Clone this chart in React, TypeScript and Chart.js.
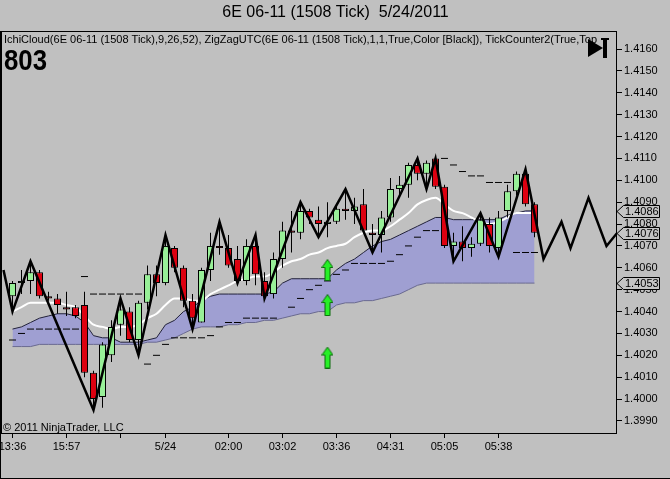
import React, { useEffect, useRef } from 'react';
import { Chart, registerables } from 'chart.js';

Chart.register(...registerables);

const FONT = '"Liberation Sans", Arial, Helvetica, sans-serif';
const BG = '#c0c0c0';
const UP = '#98f098';
const DOWN = '#dd0010';
const CLOUD = '#9f9fd2';

const titleText = '6E 06-11 (1508 Tick)  5/24/2011';
const indicatorText =
  'IchiCloud(6E 06-11 (1508 Tick),9,26,52), ZigZagUTC(6E 06-11 (1508 Tick),1,1,True,Color [Black]), TickCounter2(True,Top';
const tickCountText = '803';
const copyrightText = '\u00A9 2011 NinjaTrader, LLC';

// x axis (bar index) ticks and labels
const xTickIndex = [0, 6, 12, 17, 24, 30, 36, 42, 48, 54];
const xTickLabels = ['13:36', '15:57', '', '5/24', '02:00', '03:02', '03:36', '04:31', '05:05', '05:38'];

// price axis ticks
const yTickValues = [
  1.399, 1.4, 1.401, 1.402, 1.403, 1.404, 1.405, 1.406, 1.407, 1.408, 1.409, 1.41, 1.411, 1.412,
  1.413, 1.414, 1.415, 1.416,
];

// candles (bars 0..58)
const opens = [
  1.4047, 1.4053, 1.4054, 1.4058, 1.4047, 1.4046, 1.4042, 1.4042, 1.4043, 1.4012,
  1.4001, 1.402, 1.4034, 1.404, 1.4027, 1.4044, 1.4057, 1.4053, 1.4069, 1.406,
  1.4045, 1.4035, 1.4059, 1.407, 1.4069, 1.4064, 1.4054, 1.407, 1.4054, 1.4048,
  1.4064, 1.4077, 1.4076, 1.4086, 1.4082, 1.408, 1.4081, 1.4087, 1.4086, 1.4089,
  1.4076, 1.4075, 1.4083, 1.4096, 1.4098, 1.4107, 1.4103, 1.411, 1.4097, 1.407,
  1.4072, 1.4069, 1.4071, 1.408, 1.4069, 1.4086, 1.4095, 1.4103, 1.4089,
];
const highs = [
  1.4054, 1.4059, 1.4063, 1.4059, 1.4049, 1.4048, 1.4049, 1.4043, 1.4049, 1.4013,
  1.4026, 1.4036, 1.4046, 1.4042, 1.4045, 1.4061, 1.4061, 1.4075, 1.407, 1.4061,
  1.4048, 1.406, 1.4076, 1.4081, 1.4075, 1.407, 1.4073, 1.4075, 1.4058, 1.4067,
  1.4081, 1.4086, 1.409, 1.4087, 1.4088, 1.409, 1.4088, 1.4096, 1.4092, 1.4096,
  1.408, 1.4086, 1.4101, 1.4102, 1.4108, 1.411, 1.4109, 1.411, 1.4098, 1.4076,
  1.4079, 1.4074, 1.4085, 1.4083, 1.4086, 1.4098, 1.4104, 1.4105, 1.409,
];
const lows = [
  1.404, 1.4048, 1.4048, 1.4046, 1.4045, 1.4039, 1.4038, 1.4037, 1.401, 1.3995,
  1.3996, 1.4017, 1.4029, 1.4026, 1.402, 1.4041, 1.4047, 1.4052, 1.4058, 1.4042,
  1.4032, 1.4035, 1.4054, 1.4066, 1.406, 1.4053, 1.4052, 1.4052, 1.4046, 1.4046,
  1.406, 1.4067, 1.4073, 1.408, 1.4074, 1.4074, 1.408, 1.4082, 1.408, 1.4076,
  1.4067, 1.4067, 1.4081, 1.4092, 1.4092, 1.41, 1.4096, 1.4096, 1.4069, 1.4063,
  1.4063, 1.4065, 1.407, 1.4067, 1.4065, 1.4083, 1.4093, 1.4088, 1.4074,
];
const closes = [
  1.4053, 1.4054, 1.4058, 1.4047, 1.4046, 1.4043, 1.4041, 1.4038, 1.4012, 1.4,
  1.4025, 1.4033, 1.4041, 1.4027, 1.4044, 1.4057, 1.4053, 1.407, 1.406, 1.4045,
  1.4037, 1.4059, 1.407, 1.4069, 1.4061, 1.4054, 1.407, 1.4057, 1.4047, 1.4064,
  1.4077, 1.4076, 1.4086, 1.4083, 1.408, 1.4081, 1.4087, 1.4086, 1.4088, 1.4077,
  1.4075, 1.4083, 1.4096, 1.4098, 1.4107, 1.4103, 1.4108, 1.4097, 1.407, 1.4072,
  1.4069, 1.4071, 1.4082, 1.407, 1.4083, 1.4095, 1.4103, 1.4089, 1.4076,
];

// zigzag swing points (bar index, price), incl. projection to the right
const zigzagIndex = [-1, 0, 2, 9, 12, 14, 17, 20, 23, 25, 27, 28, 32, 34, 37, 40, 45, 46, 47, 49, 52, 54, 57, 59, 61, 62, 64, 66, 68];
const zigzagPrice = [
  1.4059, 1.404, 1.4063, 1.3995, 1.4046, 1.402, 1.4075, 1.4032, 1.4081, 1.4053,
  1.4075, 1.4046, 1.409, 1.4074, 1.4096, 1.4067, 1.411, 1.4096, 1.411, 1.4063,
  1.4085, 1.4065, 1.4105, 1.4064, 1.4081, 1.4069, 1.4092, 1.407, 1.408,
];

// white line
const whiteLine = [
  1.404, 1.4042, 1.4044, 1.4044, 1.4044, 1.4044, 1.4043, 1.4042, 1.4038, 1.4034,
  1.4033, 1.4032, 1.4033, 1.4033, 1.4034, 1.4037, 1.4039, 1.4043, 1.4046, 1.4046,
  1.4045, 1.4045, 1.4048, 1.405, 1.4052, 1.4054, 1.4055, 1.4056, 1.4056, 1.4058,
  1.4061, 1.4063, 1.4064, 1.4066, 1.4067, 1.4069, 1.407, 1.4071, 1.4074, 1.4076,
  1.4077, 1.4077, 1.4079, 1.4082, 1.4085, 1.4089, 1.4091, 1.4092, 1.4089, 1.4086,
  1.4085, 1.4083, 1.4081, 1.408, 1.4081, 1.4083, 1.4085, 1.4085, 1.4085,
];

// cloud spans
const spanA = [
  1.4032, 1.4033, 1.4035, 1.4037, 1.4038, 1.4039, 1.4039, 1.4038, 1.4035, 1.4029,
  1.4028, 1.4028, 1.4026, 1.4026, 1.4026, 1.4027, 1.4028, 1.4034, 1.4036, 1.404,
  1.4042, 1.4045, 1.4047, 1.4048, 1.4048, 1.4048, 1.4048, 1.4048, 1.4048, 1.4049,
  1.4053, 1.4055, 1.4055, 1.4055, 1.4055, 1.4055, 1.4059, 1.4062, 1.4064, 1.4067,
  1.407, 1.4072, 1.4073, 1.4075, 1.4077, 1.4079, 1.4081, 1.4083, 1.4083, 1.4082,
  1.4082, 1.4082, 1.4082, 1.4082, 1.4082, 1.4084, 1.4085, 1.4086, 1.4086,
];
const spanB = [
  1.4024, 1.4024, 1.4024, 1.4025, 1.4025, 1.4025, 1.4025, 1.4025, 1.4025, 1.4025,
  1.4025, 1.4025, 1.4025, 1.4025, 1.4025, 1.4026, 1.4026, 1.4027, 1.4028, 1.403,
  1.4032, 1.4033, 1.4033, 1.4033, 1.4034, 1.4034, 1.4035, 1.4035, 1.4036, 1.4036,
  1.4037, 1.4038, 1.4039, 1.4039, 1.404, 1.404, 1.4043, 1.4044, 1.4044, 1.4045,
  1.4045, 1.4046, 1.4047, 1.4048, 1.405, 1.4052, 1.4053, 1.4053, 1.4053, 1.4053,
  1.4053, 1.4053, 1.4053, 1.4053, 1.4053, 1.4053, 1.4053, 1.4053, 1.4053,
];

// short black dashes
const dashLine = [
  1.4027, 1.403, 1.4032, 1.4032, 1.4032, 1.4032, 1.4032, 1.4032, 1.4056, 1.4048,
  1.4048, 1.4048, 1.4048, 1.4048, 1.4048, 1.4016, 1.402, 1.4025, 1.4028, 1.4028,
  1.4028, 1.4028, 1.4029, 1.4033, 1.4035, 1.4035, 1.4037, 1.4037, 1.4037, 1.4037,
  null, 1.4042, 1.4046, 1.405, 1.4052, 1.4054, 1.4057, 1.4059, 1.4062, 1.4062,
  1.4062, 1.4062, 1.4063, 1.4066, 1.407, 1.4074, 1.4077, 1.4077, 1.411, 1.4107,
  1.4104, 1.4102, 1.4102, 1.4099, 1.4099, 1.4099, 1.4067, 1.4067, 1.4067,
];

// green up arrows
const arrowIndex = [35, 35, 35];
const arrowPrice = [1.4059, 1.4043, 1.4019];

// right-axis price markers
const markerPrices = [1.4086, 1.4076, 1.4053];

function makeArrow(): HTMLCanvasElement {
  const c = document.createElement('canvas');
  c.width = 12;
  c.height = 22;
  const g = c.getContext('2d') as CanvasRenderingContext2D;
  g.beginPath();
  g.moveTo(6, 0.5);
  g.lineTo(11.5, 8.5);
  g.lineTo(8.5, 8.5);
  g.lineTo(8.5, 21.5);
  g.lineTo(3.5, 21.5);
  g.lineTo(3.5, 8.5);
  g.lineTo(0.5, 8.5);
  g.closePath();
  g.fillStyle = '#26f026';
  g.fill();
  g.strokeStyle = '#0b6b0b';
  g.lineWidth = 1;
  g.stroke();
  return c;
}

const decorPlugin = {
  id: 'decor',
  beforeDraw(chart: any) {
    const { ctx, width, height } = chart;
    ctx.save();
    ctx.fillStyle = BG;
    ctx.fillRect(0, 0, width, height);
    ctx.restore();
  },
  afterDraw(chart: any) {
    const { ctx, chartArea: a, width, height } = chart;
    const ys = chart.scales.y;
    ctx.save();
    ctx.strokeStyle = '#000';
    ctx.lineWidth = 1;
    ctx.strokeRect(Math.round(a.left) + 0.5, Math.round(a.top) + 0.5, Math.round(a.right - a.left), Math.round(a.bottom - a.top));
    ctx.beginPath();
    ctx.moveTo(0.5, a.top);
    ctx.lineTo(0.5, height);
    ctx.moveTo(0, height - 0.5);
    ctx.lineTo(width, height - 0.5);
    ctx.stroke();

    ctx.fillStyle = '#000';
    ctx.textAlign = 'left';
    ctx.textBaseline = 'alphabetic';
    ctx.font = `11px ${FONT}`;
    ctx.fillText(indicatorText, 4, 42.5, 606);
    ctx.font = `bold 29px ${FONT}`;
    ctx.fillText(tickCountText, 4, 70, 43);
    ctx.font = `11px ${FONT}`;
    ctx.fillText(copyrightText, 3, 430.5);

    // play/stop icon
    ctx.beginPath();
    ctx.moveTo(588, 39);
    ctx.lineTo(588, 57);
    ctx.lineTo(603, 48);
    ctx.closePath();
    ctx.fill();
    ctx.fillRect(603, 38, 4, 20);
    ctx.fillRect(601, 38, 8, 2);

    // price markers
    ctx.font = `11px ${FONT}`;
    ctx.textBaseline = 'middle';
    for (const p of markerPrices) {
      const y = Math.round(ys.getPixelForValue(p)) + 0.5;
      ctx.beginPath();
      ctx.moveTo(617, y);
      ctx.lineTo(623.5, y - 6);
      ctx.lineTo(659.5, y - 6);
      ctx.lineTo(659.5, y + 6);
      ctx.lineTo(623.5, y + 6);
      ctx.closePath();
      ctx.fillStyle = '#c4c4c4';
      ctx.fill();
      ctx.strokeStyle = '#000';
      ctx.stroke();
      ctx.fillStyle = '#000';
      ctx.fillText(p.toFixed(4), 625, y + 0.5);
    }
    ctx.restore();
  },
};

export default function App() {
  const ref = useRef<HTMLCanvasElement | null>(null);

  useEffect(() => {
    document.body.style.margin = '0';
    document.body.style.overflow = 'hidden';
    const canvas = ref.current;
    if (!canvas) return;
    const arrow = makeArrow();
    const idx = opens.map((_, i) => i);

    const chart = new Chart(canvas, {
      type: 'bar',
      data: {
        datasets: [
          {
            type: 'line',
            label: 'ZigZag',
            data: zigzagIndex.map((x, k) => ({ x, y: zigzagPrice[k] })),
            borderColor: '#000',
            borderWidth: 2.5,
            pointRadius: 0,
            tension: 0,
            fill: false,
            clip: 0,
            order: 1,
          } as any,
          {
            type: 'line',
            label: 'Arrows',
            data: arrowIndex.map((x, k) => ({ x, y: arrowPrice[k] })),
            showLine: false,
            pointStyle: arrow,
            pointRadius: 10,
            order: 0,
          } as any,
          {
            type: 'bar',
            label: 'Bodies',
            data: idx.map((i) => ({ x: i, y: [opens[i], closes[i]] })),
            backgroundColor: idx.map((i) => (closes[i] >= opens[i] ? UP : DOWN)),
            borderColor: '#000',
            borderWidth: 1,
            borderSkipped: false,
            barThickness: 7,
            grouped: false,
            inflateAmount: 0,
            order: 2,
          } as any,
          {
            type: 'bar',
            label: 'Wicks',
            data: idx.map((i) => ({ x: i, y: [lows[i], highs[i]] })),
            backgroundColor: '#000',
            borderWidth: 0,
            barThickness: 1,
            grouped: false,
            inflateAmount: 0,
            order: 3,
          } as any,
          {
            type: 'line',
            label: 'White',
            data: idx.map((i) => ({ x: i, y: whiteLine[i] })),
            borderColor: '#ffffff',
            borderWidth: 2,
            pointRadius: 0,
            cubicInterpolationMode: 'monotone',
            fill: false,
            order: 4,
          } as any,
          {
            type: 'line',
            label: 'Dashes',
            data: idx.map((i) => ({ x: i, y: dashLine[i] })),
            showLine: false,
            pointStyle: 'line',
            pointRadius: 3.5,
            pointBorderWidth: 1,
            pointBorderColor: '#000',
            pointBackgroundColor: '#000',
            order: 5,
          } as any,
          {
            type: 'line',
            label: 'SpanA',
            data: idx.map((i) => ({ x: i, y: spanA[i] })),
            borderColor: '#22223a',
            borderWidth: 1,
            pointRadius: 0,
            tension: 0,
            fill: '+1',
            backgroundColor: CLOUD,
            order: 7,
          } as any,
          {
            type: 'line',
            label: 'SpanB',
            data: idx.map((i) => ({ x: i, y: spanB[i] })),
            borderColor: '#6a6a90',
            borderWidth: 1,
            pointRadius: 0,
            tension: 0,
            fill: false,
            order: 6,
          } as any,
        ],
      },
      options: {
        responsive: false,
        animation: false,
        devicePixelRatio: 1,
        events: [],
        layout: { autoPadding: false, padding: { left: 1, top: 0, right: 0, bottom: 0 } },
        plugins: {
          legend: { display: false },
          tooltip: { enabled: false },
          title: {
            display: true,
            text: titleText,
            color: '#000',
            font: { family: FONT, size: 16, weight: 'normal' },
            padding: { top: 3.4, bottom: 8.4 },
          },
        },
        scales: {
          x: {
            type: 'linear',
            min: -1.2778,
            max: 67.0556,
            offset: false,
            bounds: 'data',
            grid: { drawOnChartArea: false, drawTicks: true, tickLength: 5, color: '#000', offset: false },
            border: { display: true, color: '#000' },
            ticks: {
              autoSkip: false,
              maxRotation: 0,
              minRotation: 0,
              padding: 2,
              color: '#000',
              font: { family: FONT, size: 11 },
              callback: (v: any) => {
                const k = xTickIndex.indexOf(Number(v));
                return k >= 0 ? xTickLabels[k] : '';
              },
            },
            afterBuildTicks: (s: any) => {
              s.ticks = xTickIndex.map((v) => ({ value: v }));
            },
            afterFit: (s: any) => {
              s.height = 46;
              s.paddingLeft = 0;
              s.paddingRight = 0;
            },
          },
          y: {
            type: 'linear',
            position: 'right',
            min: 1.39845,
            max: 1.416823,
            bounds: 'data',
            grid: { drawOnChartArea: false, drawTicks: true, tickLength: 6, color: '#000' },
            border: { display: true, color: '#000' },
            ticks: {
              autoSkip: false,
              padding: 2,
              color: '#000',
              font: { family: FONT, size: 11 },
              callback: (v: any) => Number(v).toFixed(4),
            },
            afterBuildTicks: (s: any) => {
              s.ticks = yTickValues.map((v) => ({ value: v }));
            },
            afterFit: (s: any) => {
              s.width = 54;
              s.paddingTop = 0;
              s.paddingBottom = 0;
            },
          },
        },
      } as any,
      plugins: [decorPlugin],
    });
    return () => chart.destroy();
  }, []);

  return <canvas ref={ref} width={670} height={479} style={{ display: 'block' }} />;
}
